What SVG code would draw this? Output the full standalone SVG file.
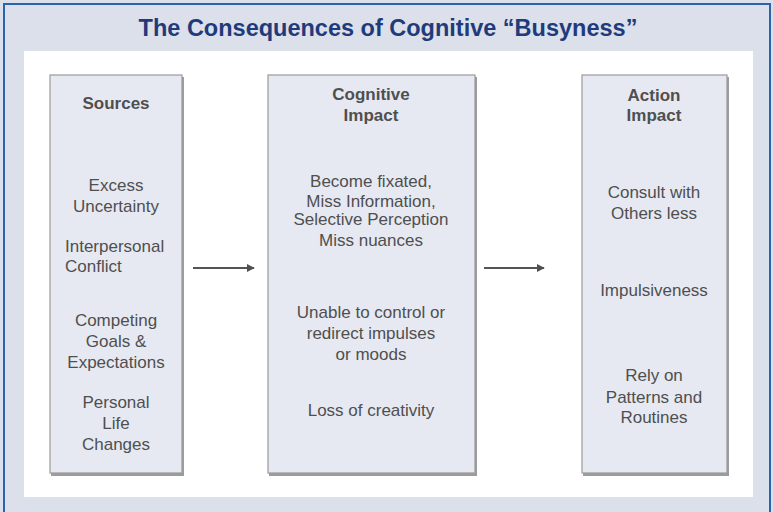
<svg xmlns="http://www.w3.org/2000/svg" width="773" height="512" viewBox="0 0 773 512">
<style>
.t{font-family:"Liberation Sans",Arial,sans-serif;font-size:17px;fill:#4f4f4f;text-anchor:middle}
.h{font-weight:bold}
.l{text-anchor:start}
.box{fill:#e6e9f2;stroke:#9a9a9a;stroke-width:1.2}
.sh{fill:#9c9c9c}
.title{font-family:"Liberation Sans",Arial,sans-serif;font-size:23.5px;font-weight:bold;fill:#1f3b7b;text-anchor:middle}
</style>
<defs>
<marker id="ah" viewBox="0 0 10 10" refX="9" refY="5" markerWidth="4" markerHeight="4" orient="auto" markerUnits="strokeWidth">
<path d="M0,0 L10,5 L0,10 z" fill="#505050"/>
</marker>
</defs>
<rect x="0" y="0" width="773" height="512" fill="#dce0ea"/>
<rect x="4" y="4" width="766" height="530" fill="none" stroke="#2a64ad" stroke-width="2"/>
<text class="title" x="388" y="36">The Consequences of Cognitive “Busyness”</text>
<rect x="24" y="51" width="729" height="446" fill="#ffffff"/>

<g id="sources">
<rect class="sh" x="51" y="77" width="133" height="399"/>
<rect class="box" x="50" y="75" width="132" height="398"/>
<text class="t h" x="116" y="109">Sources</text>
<text class="t" x="116" y="191">Excess</text>
<text class="t" x="116" y="212">Uncertainty</text>
<text class="t l" x="65" y="252">Interpersonal</text>
<text class="t l" x="65" y="272">Conflict</text>
<text class="t" x="116" y="326">Competing</text>
<text class="t" x="116" y="347">Goals &amp;</text>
<text class="t" x="116" y="368">Expectations</text>
<text class="t" x="116" y="408">Personal</text>
<text class="t" x="116" y="429">Life</text>
<text class="t" x="116" y="450">Changes</text>
</g>

<g id="cognitive">
<rect class="sh" x="269" y="77" width="208" height="399"/>
<rect class="box" x="268" y="75" width="207" height="398"/>
<text class="t h" x="371" y="100">Cognitive</text>
<text class="t h" x="371" y="121">Impact</text>
<text class="t" x="371" y="187">Become fixated,</text>
<text class="t" x="371" y="207">Miss Information,</text>
<text class="t" x="371" y="225">Selective Perception</text>
<text class="t" x="371" y="246">Miss nuances</text>
<text class="t" x="371" y="318">Unable to control or</text>
<text class="t" x="371" y="339">redirect impulses</text>
<text class="t" x="371" y="360">or moods</text>
<text class="t" x="371" y="416">Loss of creativity</text>
</g>

<g id="action">
<rect class="sh" x="583" y="77" width="146" height="399"/>
<rect class="box" x="582" y="75" width="145" height="398"/>
<text class="t h" x="654" y="101">Action</text>
<text class="t h" x="654" y="121">Impact</text>
<text class="t" x="654" y="198">Consult with</text>
<text class="t" x="654" y="219">Others less</text>
<text class="t" x="654" y="296">Impulsiveness</text>
<text class="t" x="654" y="381">Rely on</text>
<text class="t" x="654" y="403">Patterns and</text>
<text class="t" x="654" y="423">Routines</text>
</g>

<g id="connectors" stroke="#555555" stroke-width="2" fill="none">
<line x1="193" y1="268" x2="254" y2="268" marker-end="url(#ah)"/>
<line x1="484" y1="268" x2="544" y2="268" marker-end="url(#ah)"/>
</g>
</svg>
